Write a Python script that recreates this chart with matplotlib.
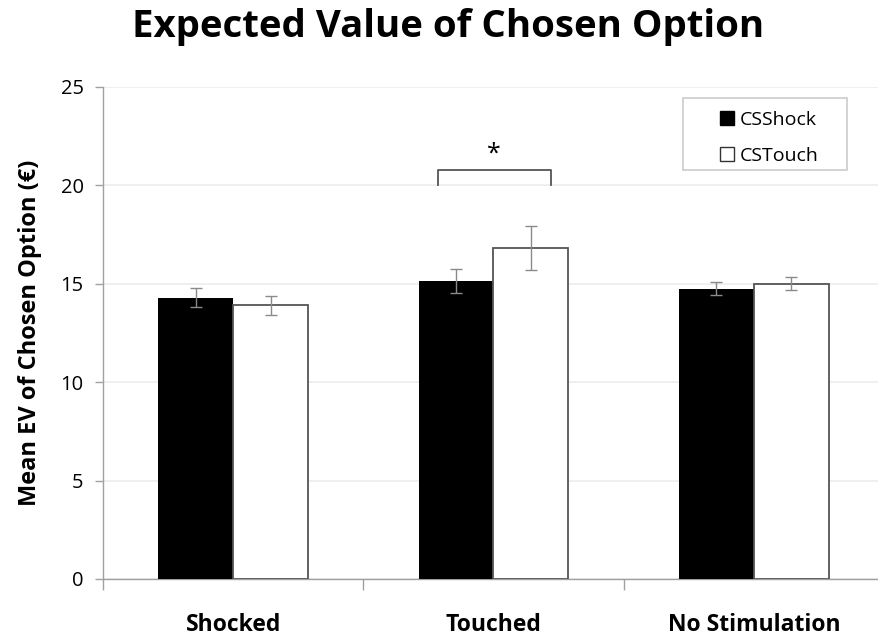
import matplotlib
matplotlib.use("Agg")
import matplotlib.pyplot as plt
from matplotlib.lines import Line2D
from matplotlib.patches import Rectangle
import matplotlib.transforms as mtransforms
import numpy as np

categories = ["Shocked", "Touched", "No Stimulation"]
series_names = ["CSShock", "CSTouch"]
cs_shock = [14.3, 15.15, 14.75]
cs_shock_err = [0.5, 0.6, 0.33]
cs_touch = [13.9, 16.8, 15.0]
cs_touch_err = [0.47, 1.12, 0.34]
yticks = [0, 5, 10, 15, 20, 25]
title = "Expected Value of Chosen Option"
ylabel = "Mean EV of Chosen Option (€)"

plt.rcParams['font.family'] = ['Open Sans', 'DejaVu Sans']

W, H = 879, 636
fig = plt.figure(figsize=(W / 100, H / 100), dpi=100)
ax = fig.add_axes([103 / W, (H - 579) / H, 781 / W, 492 / H])

x = np.arange(len(categories))
bw = 0.288
err_kw = dict(ecolor="#8a8a8a", elinewidth=1.0, capsize=4, capthick=1.0)
ax.bar(x - bw / 2, cs_shock, bw, color="black", edgecolor="black", linewidth=0,
       yerr=cs_shock_err, error_kw=err_kw, zorder=3)
ax.bar(x + bw / 2, cs_touch, bw, color="white", edgecolor="#555555", linewidth=1.3,
       yerr=cs_touch_err, error_kw=err_kw, zorder=3)

ax.set_xlim(-0.5, 2.5)
ax.set_ylim(0, 25)
ax.set_yticks(yticks)
ax.set_yticklabels([str(t) for t in yticks], fontsize=14.5)
ax.yaxis.grid(True, color="#ececec", linewidth=1.2, zorder=0)
ax.set_axisbelow(True)

# category ticks at boundaries
ax.set_xticks([-0.5, 0.5, 1.5, 2.5])
ax.set_xticklabels([])
ax.tick_params(axis="x", which="major", length=8, color="#a0a0a0", width=1)
ax.tick_params(axis="y", length=6, color="#a0a0a0", width=1, pad=8)

# category labels (baseline near the bottom edge as in the reference)
trans = mtransforms.blended_transform_factory(ax.transData, ax.transAxes)
for xi, cat in zip(x, categories):
    ax.text(xi, (579 - 631) / 492, cat, transform=trans, ha="center",
            va="baseline", fontsize=16.5, fontweight="bold", clip_on=False)

for s in ["top", "right"]:
    ax.spines[s].set_visible(False)
for s in ["left", "bottom"]:
    ax.spines[s].set_color("#a0a0a0")
    ax.spines[s].set_linewidth(1.0)

ax.set_ylabel(ylabel, fontsize=17, fontweight="bold")
ax.yaxis.set_label_coords((42 - 103) / 781, 0.5)

# significance bracket
ax.plot([0.787, 0.787, 1.222, 1.222], [20.02, 20.77, 20.77, 20.02],
        color="#555555", linewidth=1.3, zorder=4)
ax.text(1.0, 20.95, "*", ha="center", va="bottom", fontsize=18)

# legend
handles = [
    Line2D([], [], linestyle="none", marker="s", markersize=10,
           markerfacecolor="black", markeredgecolor="black", markeredgewidth=1),
    Line2D([], [], linestyle="none", marker="s", markersize=10,
           markerfacecolor="white", markeredgecolor="#333333", markeredgewidth=1),
]
leg = fig.legend(handles, series_names, loc="upper left",
                 bbox_to_anchor=(719 / W, 1 - 111 / H),
                 bbox_transform=fig.transFigure, fontsize=14, frameon=False,
                 handlelength=0.8, handletextpad=0.25, labelspacing=0.92,
                 borderpad=0, borderaxespad=0)
fig.patches.append(Rectangle((683 / W, 1 - 170 / H), (847 - 683) / W, 72 / H,
                             transform=fig.transFigure, facecolor="white",
                             edgecolor="#cccccc", linewidth=1.2, zorder=0))

fig.text(448.5 / W, 1 - 37 / H, title, ha="center", va="baseline",
         fontsize=27.6, fontweight="bold")

fig.savefig("out.png", dpi=100)
